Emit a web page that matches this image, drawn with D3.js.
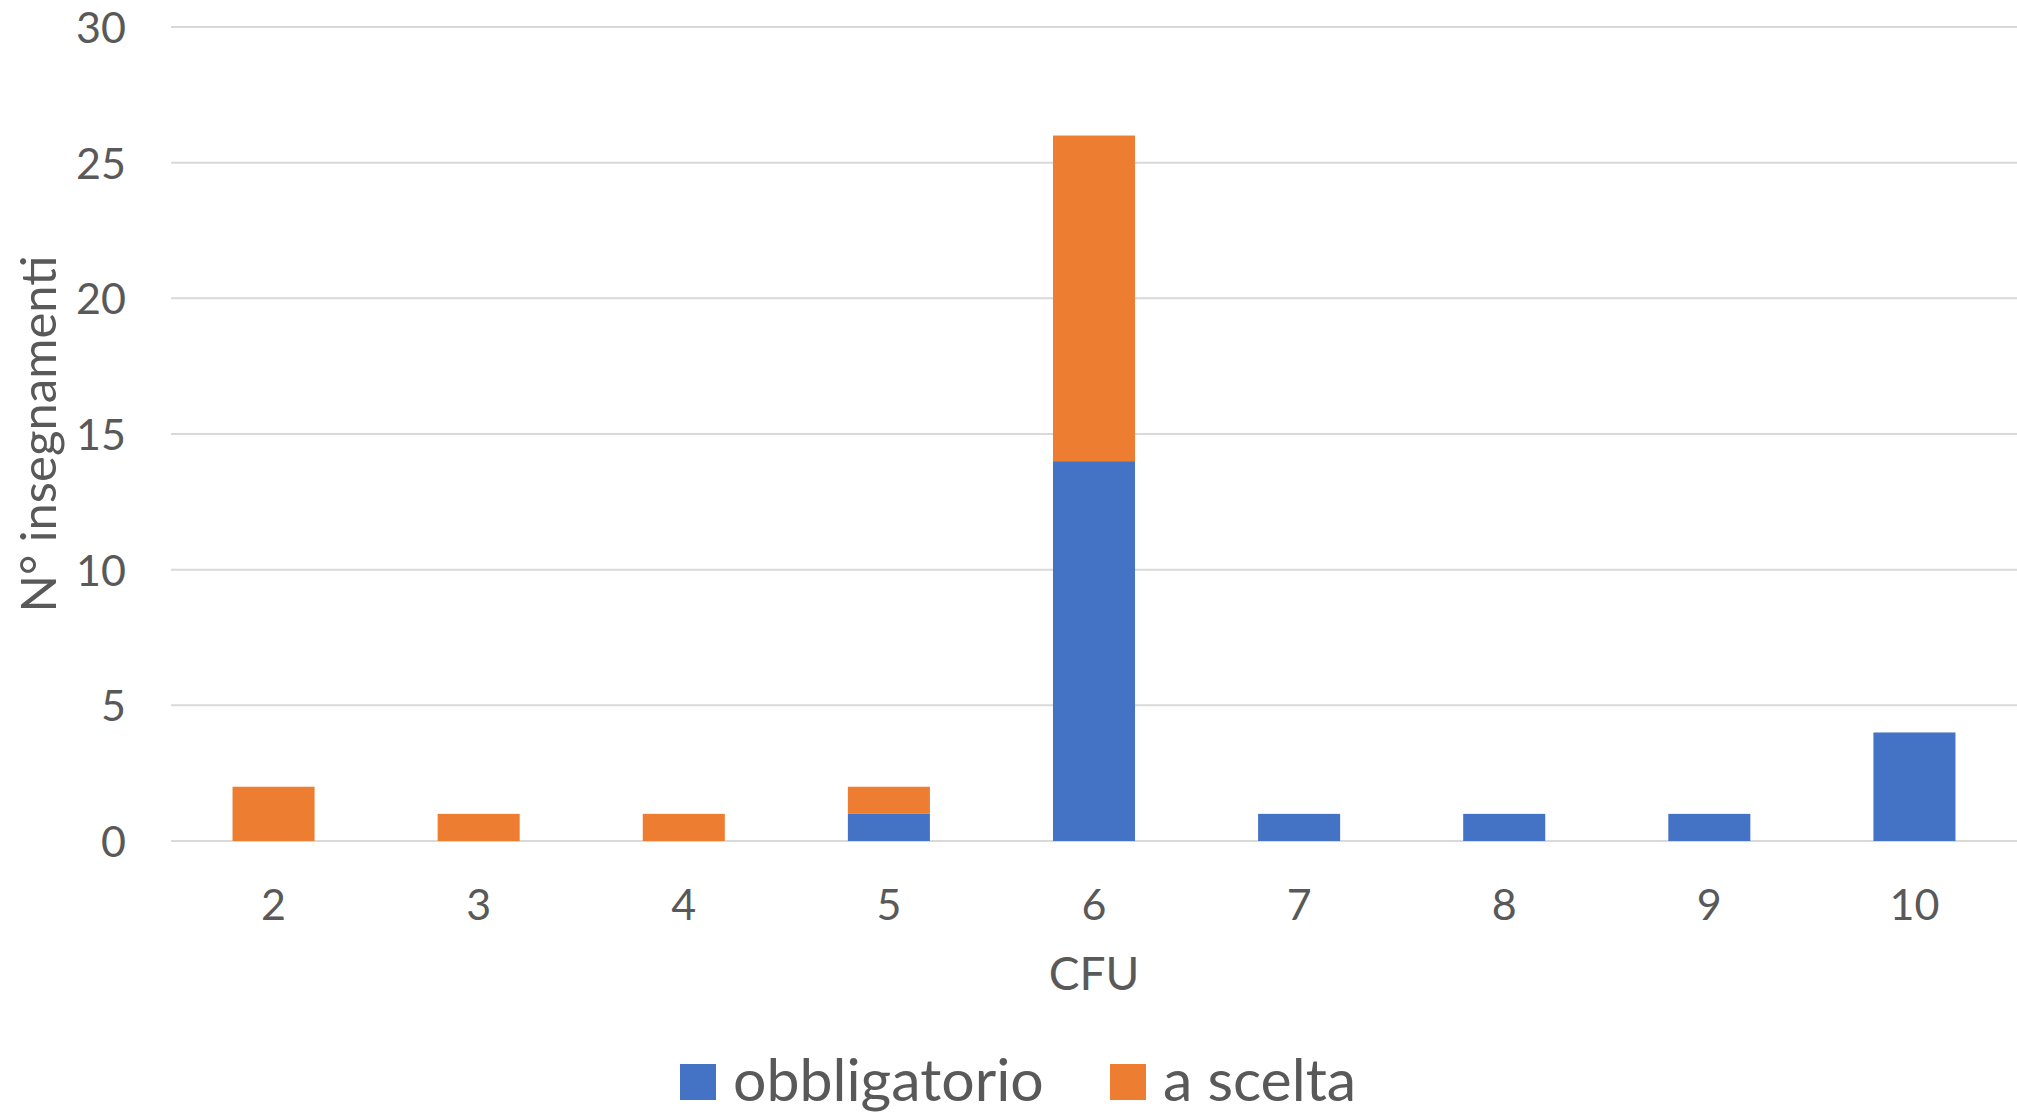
<!DOCTYPE html>
<html>
<head>
<meta charset="utf-8">
<script src="https://cdn.jsdelivr.net/npm/d3@7"></script>
<style>
    body { margin: 0; background: #fff; }
    text { font-family: Lato, "Open Sans", sans-serif; fill: #595959; }
</style>
</head>
<body>
<div id="chart"></div>
<script>
// dati
const cfu = ["2", "3", "4", "5", "6", "7", "8", "9", "10"];
const obbligatorio = [0, 0, 0, 1, 14, 1, 1, 1, 4];
const aScelta = [2, 1, 1, 1, 12, 0, 0, 0, 0];
const seriesNames = ["obbligatorio", "a scelta"];
const yTicks = [0, 5, 10, 15, 20, 25, 30];

drawChart();

function drawChart() {
    const W = 2017, H = 1115;
    const margin = { top: 27, right: 0, bottom: 274, left: 171 };
    const width = W - margin.left - margin.right;
    const height = H - margin.top - margin.bottom;

    const svg = d3.select("#chart").append("svg")
        .attr("width", W)
        .attr("height", H)
        .append("g")
        .attr("transform", `translate(${margin.left},${margin.top})`);

    const color = d3.scaleOrdinal()
        .domain(seriesNames)
        .range(["#4472C4", "#ED7D31"]);

    const rows = cfu.map((c, i) => ({ cfu: c, "obbligatorio": obbligatorio[i], "a scelta": aScelta[i] }));
    const stacked = d3.stack().keys(seriesNames)(rows);

    const x = d3.scaleBand()
        .domain(cfu)
        .range([0, width])
        .paddingInner(0.6)
        .paddingOuter(0.3);

    const y = d3.scaleLinear()
        .domain([0, 30])
        .range([height, 0]);

    // griglia orizzontale
    svg.append("g")
        .selectAll("line")
        .data(yTicks)
        .enter().append("line")
        .attr("x1", 0)
        .attr("x2", width)
        .attr("y1", d => y(d))
        .attr("y2", d => y(d))
        .attr("stroke", "#D9D9D9")
        .attr("stroke-width", 2);

    // asse Y
    const yAxis = svg.append("g")
        .attr("transform", "translate(-45,0)")
        .call(d3.axisLeft(y).tickValues(yTicks).tickSize(0).tickPadding(0));
    yAxis.select(".domain").remove();
    yAxis.selectAll("text")
        .attr("font-size", 43)
        .attr("dy", "0.36em");

    // barre impilate
    svg.selectAll(".serie")
        .data(stacked)
        .enter().append("g")
        .attr("class", "serie")
        .attr("fill", d => color(d.key))
        .selectAll("rect")
        .data(d => d)
        .enter().append("rect")
        .attr("x", d => x(d.data.cfu))
        .attr("y", d => y(d[1]))
        .attr("width", x.bandwidth())
        .attr("height", d => y(d[0]) - y(d[1]));

    // asse X
    const xAxis = svg.append("g")
        .attr("transform", `translate(0,${height})`)
        .call(d3.axisBottom(x).tickSize(0).tickPadding(48));
    xAxis.select(".domain").remove();
    xAxis.selectAll("text")
        .attr("font-size", 43)
        .attr("dy", "0.71em");

    // titoli assi
    svg.append("text")
        .attr("x", width / 2)
        .attr("y", height + 149)
        .attr("text-anchor", "middle")
        .attr("font-size", 46)
        .text("CFU");

    svg.append("text")
        .attr("transform", `translate(${56 - margin.left},${height / 2}) rotate(-90)`)
        .attr("text-anchor", "middle")
        .attr("font-size", 49)
        .text("N° insegnamenti");

    // legenda
    const legend = d3.select("#chart svg").append("g");
    const legendX = [680, 1110];
    seriesNames.forEach((name, i) => {
        legend.append("rect")
            .attr("x", legendX[i])
            .attr("y", 1064)
            .attr("width", 36)
            .attr("height", 36)
            .attr("fill", color(name));
        legend.append("text")
            .attr("x", legendX[i] + 53)
            .attr("y", 1101)
            .attr("font-size", 59)
            .text(name);
    });
}
</script>
</body>
</html>
